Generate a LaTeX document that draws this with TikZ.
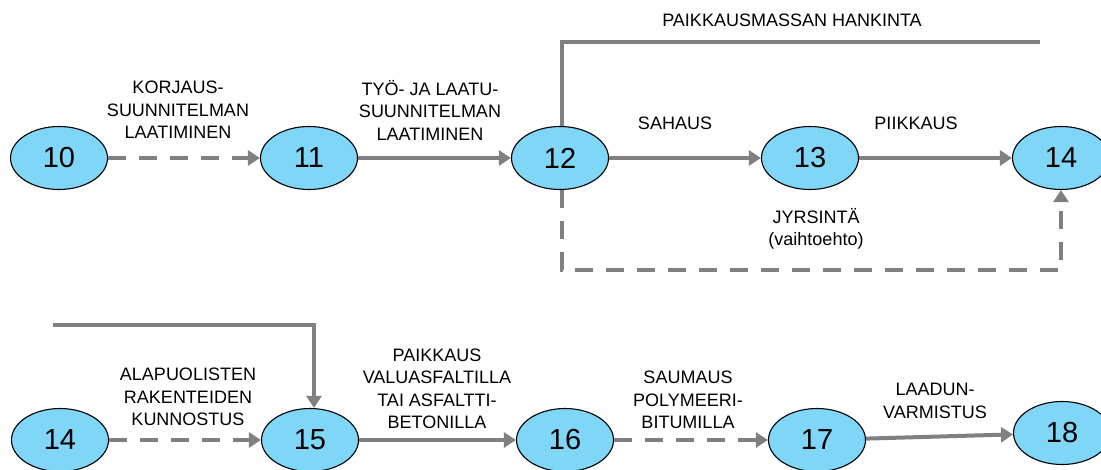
\documentclass[tikz,border=0pt]{standalone}
\usepackage{fontspec}
\setmainfont{Liberation Sans}
\usetikzlibrary{shapes.geometric,arrows.meta}
\definecolor{nodeblue}{HTML}{80D6F6}
\definecolor{linegray}{HTML}{808080}
\tikzset{
  event/.style={ellipse, draw=black, line width=1.1pt, fill=nodeblue,
    minimum width=97pt, minimum height=63pt, inner sep=0pt,
    font=\fontsize{29}{32}\selectfont},
  act/.style={draw=linegray, line width=4pt, -{Triangle[length=12pt,width=15pt]}},
  actdash/.style={act, dash pattern=on 18pt off 13pt},
  line/.style={draw=linegray, line width=4pt},
  lbl/.style={align=center, inner sep=0pt, font=\fontsize{18}{22.5}\selectfont},
}
\begin{document}
\begin{tikzpicture}[x=1pt,y=-1pt]
\useasboundingbox (0,0) rectangle (1101,469);
% top row
\node[event] (n10) at (59,158) {10};
\node[event] (n11) at (309,158) {11};
\node[event] (n12) at (560,158) {12};
\node[event] (n13) at (810,158) {13};
\node[event] (n14) at (1061,158) {14};
% bottom row
\node[event] (b14) at (60,440) {14};
\node[event] (b15) at (310,440) {15};
\node[event] (b16) at (565,440) {16};
\node[event] (b17) at (817,440) {17};
\node[event] (b18) at (1062,433) {18};
% coordinates
\coordinate (pend) at (1040,42);
\coordinate (jcorner) at (1061,270);
\coordinate (pstart) at (53,325);
% connectors top
\draw[actdash] (n10) -- (n11);
\draw[act] (n11) -- (n12);
\draw[act] (n12) -- (n13);
\draw[act] (n13) -- (n14);
\draw[line] ([xshift=2pt]n12.north) |- (pend);
\draw[actdash] ([xshift=2pt]n12.south) |- (jcorner) -- (n14.south);
% connectors bottom
\draw[act] (pstart) -| ([xshift=4pt]b15.north);
\draw[actdash] (b14) -- (b15);
\draw[act] (b15) -- (b16);
\draw[actdash] (b16) -- (b17);
\draw[act] (b17) -- (b18);
% labels
\node[lbl] (l1) at (178,110) {KORJAUS-\\SUUNNITELMAN\\LAATIMINEN};
\node[lbl] (l2) at (430,110) {TYÖ- JA LAATU-\\SUUNNITELMAN\\LAATIMINEN};
\node[lbl] (l3) at (792,20) {PAIKKAUSMASSAN HANKINTA};
\node[lbl] (l4) at (675,123) {SAHAUS};
\node[lbl] (l5) at (916,123) {PIIKKAUS};
\node[lbl] (l6) at (816,229) {JYRSINTÄ\\(vaihtoehto)};
\node[lbl] (l7) at (188,397) {ALAPUOLISTEN\\RAKENTEIDEN\\KUNNOSTUS};
\node[lbl] (l8) at (437,389) {PAIKKAUS\\VALUASFALTILLA\\TAI ASFALTTI-\\BETONILLA};
\node[lbl] (l9) at (688,400) {SAUMAUS\\POLYMEERI-\\BITUMILLA};
\node[lbl] (l10) at (935,401) {LAADUN-\\VARMISTUS};
\end{tikzpicture}
\end{document}
